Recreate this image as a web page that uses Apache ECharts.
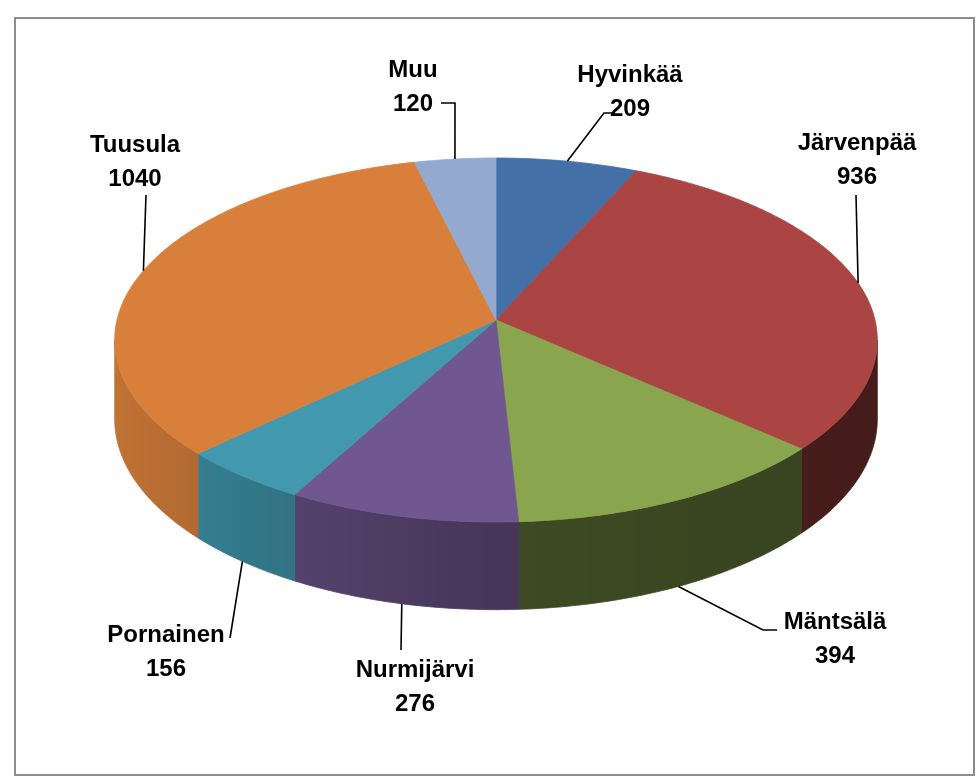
<!DOCTYPE html>
<html><head><meta charset="utf-8">
<script src="https://cdn.jsdelivr.net/npm/echarts@6/dist/echarts.min.js"></script>
<style>html,body{margin:0;padding:0;background:#fff}#c{width:976px;height:780px}</style>
</head><body><div id="c"></div>
<script>
const categories = ['Hyvinkää','Järvenpää','Mäntsälä','Nurmijärvi','Pornainen','Tuusula','Muu'];
const values = [209, 936, 394, 276, 156, 1040, 120];
const colors = ['#4470A8','#AA4543','#89A54E','#71578F','#4198AF','#D8803B','#93A9CF'];

// layout (positions of labels and leader elbows)
const labelLayout = [
  {x:630, y:75,  path:[[604,113],[613,113]]},
  {x:857, y:143, path:[[856,195]]},
  {x:835, y:622, path:[[763,630],[777,630]]},
  {x:415, y:670, path:[[401,650]]},
  {x:166, y:635, path:[[230,638]]},
  {x:135, y:145, path:[[146,195]]},
  {x:413, y:70,  path:[[455,103],[441,103]]}
];

const G = {cx:496, cy:320, a:379, b:179.8, k:0.11, T:78};
const total = values.reduce((s,v)=>s+v,0);
const cum = []; {let s=0; values.forEach(v=>{cum.push(s); s+=v;});}

function proj(phi, depth){
  const u=Math.sin(phi), v=-Math.cos(phi), w=1-G.k*v;
  return [G.cx + G.a*u/w, G.cy + G.b*v/w + depth*G.T/w];
}
function hexToRgb(h){return [parseInt(h.slice(1,3),16),parseInt(h.slice(3,5),16),parseInt(h.slice(5,7),16)];}
function shade(hex,f){const c=hexToRgb(hex).map(x=>Math.max(0,Math.min(255,Math.round(x*f))));return 'rgb('+c.join(',')+')';}
function wallFactor(u, neg){ return neg ? 0.62-0.28*Math.min(0,u) : 0.45-0.05*Math.max(0,u); }

const phiVis0 = Math.acos(-G.k), phiVis1 = 2*Math.PI - Math.acos(-G.k);

function renderItem(params, api){
  const i = params.dataIndex;
  const val = api.value(0);
  const p0 = cum[i]/total*2*Math.PI, p1 = (cum[i]+val)/total*2*Math.PI;
  const col = colors[i];
  const children = [];
  // top face
  const n = Math.max(4, Math.ceil((p1-p0)/(Math.PI/180)));
  const top = [[G.cx,G.cy]];
  for(let j=0;j<=n;j++) top.push(proj(p0+(p1-p0)*j/n,0));
  children.push({type:'polygon', z2:10, shape:{points:top}, style:{fill:col, stroke:col, lineWidth:0.8}});
  // wall
  const w0 = Math.max(p0, phiVis0), w1 = Math.min(p1, phiVis1);
  if (w1 > w0){
    const m = Math.max(4, Math.ceil((w1-w0)/(Math.PI/180)));
    const up=[], dn=[], stops=[];
    for(let j=0;j<=m;j++){const ph=w0+(w1-w0)*j/m; up.push(proj(ph,0)); dn.push(proj(ph,1));}
    const xs = up.map(p=>p[0]).concat(dn.map(p=>p[0]));
    const xmin=Math.min(...xs), xmax=Math.max(...xs);
    const neg = Math.sin((w0+w1)/2) < 0;
    for(let j=0;j<=m;j++){const ph=w0+(w1-w0)*j/m; const off=(up[j][0]-xmin)/Math.max(1,(xmax-xmin));
      stops.push({offset:Math.max(0,Math.min(1,off)), color:shade(col, wallFactor(Math.sin(ph), neg))});}
    stops.sort((a,b)=>a.offset-b.offset);
    const grad = {type:'linear', x:xmin, y:0, x2:xmax, y2:0, global:true, colorStops:stops};
    children.push({type:'polygon', z2:5, shape:{points:up.concat(dn.reverse())}, style:{fill:grad, stroke:grad, lineWidth:0.8}});
  }
  // leader
  const mid = (p0+p1)/2;
  const front = mid>phiVis0 && mid<phiVis1;
  const start = proj(mid, front?1:0);
  const L = labelLayout[i];
  children.push({type:'polyline', z2:20, shape:{points:[start].concat(L.path)}, style:{stroke:'#000', lineWidth:1.6, fill:null}});
  const font = 'bold 24px "Liberation Sans", Arial, sans-serif';
  children.push({type:'text', z2:20, style:{x:L.x, y:L.y, text:categories[i], font, fill:'#000', align:'center', verticalAlign:'middle'}});
  children.push({type:'text', z2:20, style:{x:L.x, y:L.y+34, text:String(val), font, fill:'#000', align:'center', verticalAlign:'middle'}});
  return {type:'group', children};
}

const chart = echarts.init(document.getElementById('c'), null, {renderer:'canvas'});
chart.setOption({
  animation:false,
  backgroundColor:'#fff',
  graphic:[{type:'rect', shape:{x:15, y:18, width:959, height:757}, style:{fill:null, stroke:'#8c8c8c', lineWidth:2}, z:-1}],
  series:[{type:'custom', coordinateSystem:'none', renderItem, data: values.map((v,i)=>({name:categories[i], value:[v]}))}]
});
</script></body></html>
